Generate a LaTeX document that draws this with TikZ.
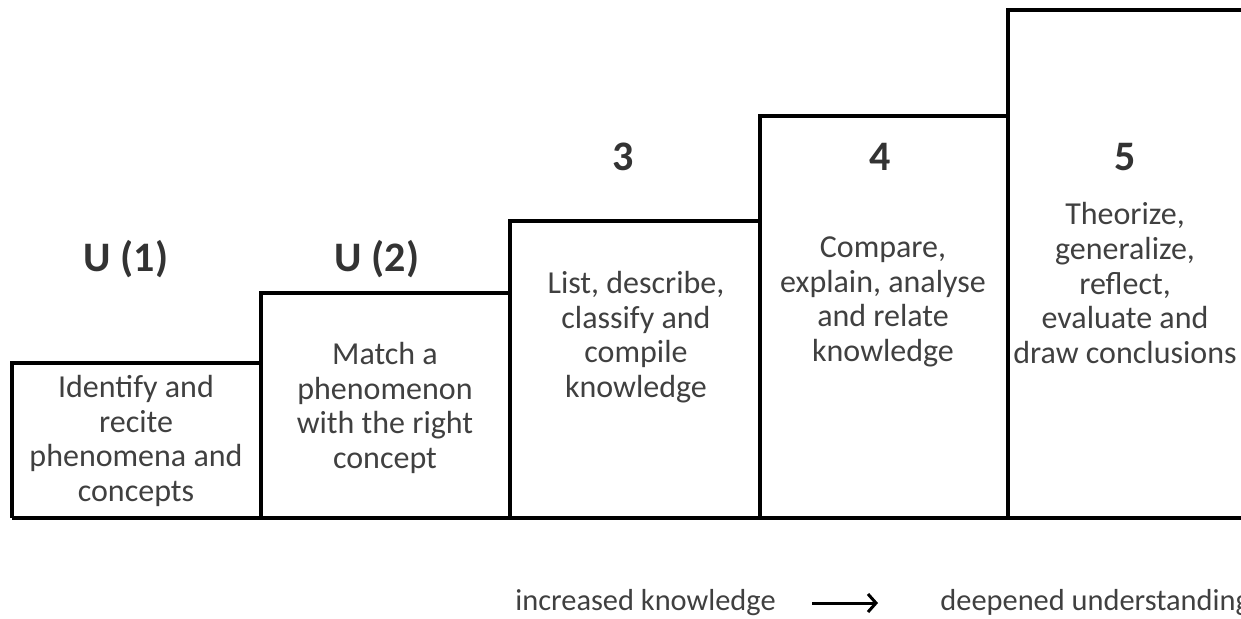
\documentclass[tikz,border=0pt]{standalone}
\usepackage{fontspec}
\setmainfont{Carlito}
\usetikzlibrary{positioning, arrows.meta}
\tikzset{>=latex}
\usepackage{xcolor}

\tikzset{
  stair/.style={line width=1.8pt, line join=miter},
  levelhead/.style={text=black!80, font=\bfseries\fontsize{21}{24}\selectfont, inner sep=0pt},
  levelbody/.style={text=black!75, align=center, font=\fontsize{16}{17.3}\selectfont, inner sep=0pt},
  axistext/.style={text=black!75, font=\fontsize{15.2}{18}\selectfont, inner sep=0pt}
}

\begin{document}
\begin{tikzpicture}[x=0.5pt,y=-0.5pt]
\useasboundingbox (0,0) rectangle (1241,618);
\clip (0,0) rectangle (1241,618);
% the five steps
\draw[stair] (12,518) -- (12,363) -- (261,363) -- (261,518);
\draw[stair] (261,363) -- (261,293) -- (510,293) -- (510,518);
\draw[stair] (510,293) -- (510,221) -- (760,221) -- (760,518);
\draw[stair] (760,221) -- (760,116) -- (1008,116) -- (1008,518);
\draw[stair] (1008,116) -- (1008,10) -- (1260,10);
\draw[stair] (12,518) -- (1260,518);
% level numbers
\node[levelhead] (h1) at (126,259) {U (1)};
\node[levelhead] (h2) at (377,259) {U (2)};
\node[levelhead] (h3) at (623,157) {3};
\node[levelhead] (h4) at (880,157) {4};
\node[levelhead] (h5) at (1125,157) {5};
% what each level asks for
\node[levelbody] (b1) at (136,441) {Identify and\\recite\\phenomena and\\concepts};
\node[levelbody] (b2) at (385,408) {Match a\\phenomenon\\with the right\\concept};
\node[levelbody] (b3) at (636,337) {List, describe,\\classify and\\compile\\knowledge};
\node[levelbody] (b4) at (883,302) {Compare,\\explain, analyse\\and relate\\knowledge};
\node[levelbody] (b5) at (1125,283) {Theorize,\\generalize,\\reflect,\\evaluate and\\draw conclusions};
% bottom line
\node[axistext, anchor=west] (know) at (515,603) {increased knowledge};
\node[axistext, anchor=west] (deep) at (940,603) {deepened understanding};
\draw[-{Straight Barb[length=4pt,width=9pt]}, line width=1.5pt, shorten <=18pt, shorten >=31pt] (know.east) -- (deep.west);
\end{tikzpicture}
\end{document}
